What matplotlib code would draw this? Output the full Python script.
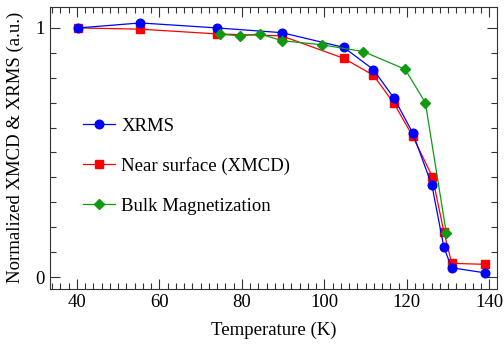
import matplotlib
matplotlib.use("Agg")
import matplotlib.pyplot as plt
from matplotlib.ticker import MultipleLocator

plt.rcParams['font.family'] = ['Liberation Serif', 'DejaVu Serif']
plt.rcParams['mathtext.fontset'] = 'stix'

# Data
xrms_T = [40.4, 55.4, 74.0, 89.7, 104.7, 111.9, 116.9, 121.4, 126.1, 129.0, 130.9, 138.9]
xrms_v = [1.0, 1.02, 1.0, 0.981, 0.922, 0.833, 0.718, 0.58, 0.368, 0.119, 0.037, 0.017]

xmcd_T = [40.4, 55.4, 74.0, 89.7, 104.7, 111.9, 116.9, 121.4, 126.2, 129.0, 130.9, 139.0]
xmcd_v = [1.0, 0.995, 0.976, 0.968, 0.878, 0.81, 0.697, 0.566, 0.403, 0.181, 0.055, 0.051]

bulk_T = [74.6, 79.5, 84.4, 89.7, 99.5, 109.5, 119.6, 124.5, 129.6]
bulk_v = [0.975, 0.968, 0.976, 0.949, 0.932, 0.905, 0.834, 0.70, 0.175]

FS = 13.5

fig = plt.figure(figsize=(5.04, 3.45), dpi=100)
ax = fig.add_axes([50/504, 1-288.5/345, (496.7-50)/504, (288.5-6.5)/345])

l2, = ax.plot(xmcd_T, xmcd_v, color='#ff0000', lw=0.9, marker='s', ms=6, mec='#ff0000', mfc='#ff0000', label='Near surface (XMCD)', zorder=2)
l1, = ax.plot(xrms_T, xrms_v, color='#0000ff', lw=0.9, marker='o', ms=6.2, mec='#0000ff', mfc='#0000ff', label='XRMS', zorder=3)
l3, = ax.plot(bulk_T, bulk_v, color='#119911', lw=0.9, marker='D', ms=5.5, mec='#119911', mfc='#119911', label='Bulk Magnetization', zorder=4)

ax.set_xlim(33.5, 141.8)
ax.set_ylim(-0.046, 1.086)
ax.set_xticks([40, 60, 80, 100, 120, 140])
ax.xaxis.set_minor_locator(MultipleLocator(2))
ax.set_yticks([0, 1])
ax.set_yticklabels(['0', '1'])
ax.yaxis.set_minor_locator(MultipleLocator(0.1))
ax.tick_params(which='both', direction='in', top=True, right=True, labelsize=FS, width=0.8, color='#333333')
ax.tick_params(which='major', length=7.5, pad=4)
ax.tick_params(which='minor', length=4)
for s in ax.spines.values():
    s.set_linewidth(0.8)
    s.set_color('#333333')

ax.set_xlabel('Temperature (K)', fontsize=FS, labelpad=8)
ax.set_ylabel('Normalized XMCD & XRMS (a.u.)', fontsize=FS, labelpad=8)

leg = ax.legend(handles=[l1, l2, l3], loc='upper left', bbox_to_anchor=(0.057, 0.633),
                frameon=False, fontsize=FS, handlelength=1.7, handletextpad=0.35,
                labelspacing=1.2, borderaxespad=0)

fig.savefig('out.png', dpi=100)
